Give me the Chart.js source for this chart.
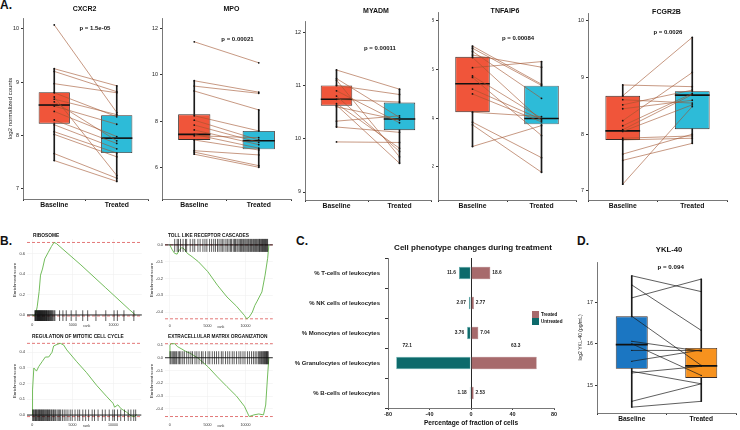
<!DOCTYPE html>
<html>
<head>
<meta charset="utf-8">
<script src="https://cdn.jsdelivr.net/npm/chart.js@4.4.1/dist/chart.umd.min.js"></script>
<style>
  body { margin: 0; background: #fff; width: 740px; height: 430px; position: relative; overflow: hidden; }
  canvas { position: absolute; }
  .tag { position: absolute; font: bold 12px 'Liberation Sans', Arial, sans-serif; line-height: 12px; color: #111; }
</style>
</head>
<body>
<div class="tag" style="left:0;top:-1px">A.</div>
<div class="tag" style="left:0;top:235px">B.</div>
<div class="tag" style="left:296px;top:235px">C.</div>
<div class="tag" style="left:577px;top:235px">D.</div>

<canvas id="cxcr2" style="left:0;top:0" width="152" height="214"></canvas>
<canvas id="mpo" style="left:152px;top:0" width="143" height="214"></canvas>
<canvas id="myadm" style="left:295px;top:0" width="140" height="214"></canvas>
<canvas id="tnfaip6" style="left:432px;top:0" width="148" height="214"></canvas>
<canvas id="fcgr2b" style="left:575px;top:0" width="165" height="214"></canvas>

<canvas id="ribo" style="left:8px;top:230px" width="140" height="102"></canvas>
<canvas id="toll" style="left:145px;top:230px" width="135" height="102"></canvas>
<canvas id="mito" style="left:8px;top:332px" width="140" height="98"></canvas>
<canvas id="ecm" style="left:145px;top:332px" width="135" height="98"></canvas>

<canvas id="cells" style="left:282px;top:236px" width="290" height="194"></canvas>
<canvas id="ykl" style="left:576px;top:236px" width="164" height="194"></canvas>

<script>
const FONT = "'Liberation Sans', Arial, sans-serif";
Chart.defaults.font.family = FONT;
Chart.defaults.color = '#222';
Chart.defaults.animation = false;
Chart.defaults.responsive = false;
Chart.defaults.plugins.legend.display = false;
Chart.defaults.plugins.tooltip.enabled = false;

// ---- A. paired expression, Baseline vs Treated ----
const groups = ['Baseline', 'Treated'];

const cxcr2Base  = [10.07, 9.25, 9.20, 8.97, 8.80, 8.72, 8.68, 8.63, 8.55, 8.45, 8.29, 8.20, 8.07, 8.02, 7.66, 7.53];
const cxcr2Treat = [8.43, 8.93, 8.82, 8.80, 8.35, 7.25, 8.39, 7.90, 8.21, 7.98, 7.85, 7.75, 7.67, 7.60, 7.20, 7.14];
const cxcr2Stats = [[7.53, 8.22, 8.57, 8.81, 9.25], [7.14, 7.67, 7.95, 8.38, 8.93]]; // lo, q1, median, q3, hi
const cxcr2Ticks = [7, 8, 9, 10];

const mpoBase  = [11.41, 9.74, 9.51, 9.30, 8.24, 8.05, 7.84, 7.63, 7.44, 7.38, 7.20, 6.74, 6.68, 6.59];
const mpoTreat = [10.51, 9.25, 9.20, 8.49, 7.59, 7.20, 7.10, 7.00, 6.85, 7.30, 6.77, 6.56, 6.10, 6.03];
const mpoStats = [[6.59, 7.20, 7.44, 8.30, 9.74], [6.03, 6.80, 7.17, 7.59, 8.49]];
const mpoTicks = [6, 8, 10, 12];

const myadmBase  = [11.29, 11.13, 11.10, 11.00, 10.90, 10.80, 10.74, 10.66, 10.63, 10.60, 10.33, 10.22, 9.94];
const myadmTreat = [10.93, 10.40, 9.66, 10.83, 10.30, 9.76, 10.69, 9.82, 9.54, 10.35, 10.43, 10.12, 9.93];
const myadmStats = [[10.22, 10.62, 10.74, 11.00, 11.29], [9.54, 10.16, 10.37, 10.68, 10.93]];
const myadmTicks = [9, 10, 11, 12];

const tnfBase  = [6.97, 6.88, 6.75, 6.60, 6.50, 6.08, 5.74, 5.68, 5.20, 5.00, 4.25, 3.84, 3.73, 2.84];
const tnfTreat = [5.40, 5.35, 4.82, 6.10, 3.90, 6.33, 4.00, 3.29, 3.95, 3.85, 4.07, 2.38, 1.78, 3.70];
const tnfStats = [[2.84, 4.25, 5.42, 6.53, 6.97], [1.78, 3.75, 3.99, 5.34, 6.33]];
const tnfTicks = [2, 4, 6, 8];

const fcgBase  = [8.87, 8.68, 8.61, 8.52, 8.24, 8.15, 8.08, 8.05, 7.93, 7.90, 7.65, 7.54, 7.12, 8.45];
const fcgTreat = [8.84, 9.71, 8.55, 8.78, 9.09, 8.72, 8.70, 8.52, 7.97, 7.93, 8.00, 7.84, 8.49, 8.60];
const fcgStats = [[7.12, 7.90, 8.06, 8.68, 8.87], [7.84, 8.09, 8.69, 8.76, 9.71]];
const fcgTicks = [7, 8, 9, 10];

// ---- D. YKL-40 ----
const yklBase  = [17.63, 17.41, 17.10, 16.66, 16.06, 16.00, 15.84, 15.58, 15.34, 15.30, 14.62, 14.48];
const yklTreat = [17.25, 16.32, 17.55, 15.48, 15.82, 15.24, 15.84, 15.85, 15.04, 15.46, 15.04, 14.62];
const yklStats = [[14.48, 15.40, 15.98, 16.66, 17.63], [14.62, 15.18, 15.47, 15.90, 17.55]];
const yklTicks = [15, 16, 17];

// ---- B. GSEA running scores (rank, enrichment score) and hit ranks ----
const riboRank = [0, 300, 450, 610, 850, 1020, 1260, 1545, 1950, 2360, 2680, 2970, 6000, 9000, 12000, 12720];
const riboES   = [0, -0.01, 0.02, 0.08, 0.23, 0.39, 0.45, 0.55, 0.61, 0.67, 0.71, 0.70, 0.49, 0.27, 0.05, 0.0];
const riboHits = [320, 390, 430, 500, 560, 610, 650, 720, 760, 800, 860, 900, 950, 1010, 1060, 1090, 1150, 1200,
  1260, 1300, 1370, 1410, 1480, 1530, 1570, 1640, 1700, 1760, 1800, 1870, 1950, 2010, 2080, 2150, 2230, 2300,
  2390, 2470, 2560, 2690, 2790, 3370, 3780, 4190, 4800, 5400, 6220, 6830, 7850, 9060, 10080, 10490, 11300, 12520];
const riboTicks = [0, 0.2, 0.4, 0.6];

const tollRank = [0, 340, 630, 970, 1260, 1600, 1890, 2310, 2940, 3780, 5040, 6300, 7560, 8820, 9870, 10160,
  10500, 10920, 11250, 11550, 12180, 12600, 12940, 13100];
const tollES   = [0, -0.03, -0.05, -0.055, -0.03, -0.016, -0.024, -0.05, -0.07, -0.10, -0.16, -0.24, -0.31, -0.365,
  -0.42, -0.44, -0.43, -0.40, -0.36, -0.335, -0.28, -0.18, -0.08, 0];
const tollHits = [650, 980, 1150, 1420, 1760, 2080, 2230, 2700, 3050, 3300, 3720, 4010, 4380, 4650, 4900, 5260,
  5530, 5810, 6040, 6310, 6520, 6770, 6950, 7160, 7420, 7610, 7830, 8020, 8170, 8390, 8560, 8690, 8880, 9020,
  9190, 9350, 9480, 9640, 9760, 9910, 10050, 10190, 10320, 10430, 10580, 10690, 10810, 10960, 11080, 11190,
  11330, 11450, 11560, 11680, 11790, 11870, 11960, 12070, 12160, 12250, 12340, 12420, 12510, 12600, 12680,
  12760, 12850, 12930];
const tollTicks = [-0.4, -0.3, -0.2, -0.1, 0];

const mitoRank = [0, 40, 200, 530, 815, 1220, 1630, 2040, 2450, 2650, 3060, 3470, 3880, 4280, 5510, 6730, 7960,
  9180, 10000, 10200, 10600, 11000, 11630, 12240, 12650, 12930];
const mitoES   = [0, 0.16, 0.30, 0.28, 0.31, 0.34, 0.37, 0.37, 0.40, 0.44, 0.45, 0.457, 0.447, 0.415, 0.34, 0.27,
  0.19, 0.12, 0.075, 0.05, 0.065, 0.04, 0.02, -0.005, -0.01, 0.004];
const mitoHits = [50, 170, 240, 350, 410, 520, 590, 700, 760, 870, 930, 1010, 1120, 1180, 1290, 1360, 1440, 1560,
  1610, 1730, 1820, 1890, 2010, 2120, 2190, 2330, 2410, 2560, 2640, 2790, 2900, 3080, 3230, 3390, 3520, 3740,
  3960, 4180, 4420, 4700, 4950, 5300, 5640, 5870, 6260, 6610, 6980, 7420, 7710, 8150, 8680, 9040, 9530, 9970,
  10180, 10560, 10950, 11420, 11880, 12210, 12560, 12800];
const mitoTicks = [0, 0.1, 0.2, 0.3, 0.4];

const ecmRank = [0, 30, 210, 630, 1050, 1600, 2100, 2730, 3780, 5040, 6300, 7560, 8820, 9870, 10500, 11130,
  11760, 12390, 12680, 12940, 13100];
const ecmES   = [0, 0.10, 0.11, 0.11, 0.086, 0.068, 0.05, 0.034, -0.005, -0.07, -0.15, -0.226, -0.30, -0.38,
  -0.46, -0.447, -0.44, -0.447, -0.37, -0.135, 0];
const ecmHits = [40, 160, 330, 480, 640, 790, 910, 1120, 1290, 1470, 1720, 1930, 2240, 2510, 2790, 3010, 3330,
  3580, 3870, 4190, 4400, 4730, 5060, 5290, 5620, 5910, 6180, 6470, 6820, 7040, 7370, 7660, 7930, 8260, 8510,
  8830, 9140, 9390, 9680, 9940, 10270, 10530, 10810, 11060, 11290, 11510, 11720, 11870, 12010, 12130, 12240,
  12360, 12450, 12540, 12630, 12710, 12790, 12860, 12940, 13010];
const ecmTicks = [-0.4, -0.3, -0.2, -0.1, 0, 0.1];
const rankTicks = [0, 5000, 10000];

// ---- C. cell phenotypes ----
const cellTypes = ['% T-cells of leukocytes', '% NK cells of leukocytes', '% Monocytes of leukocytes',
  '% Granulocytes of leukocytes', '% B-cells of leukocytes'];
const treatedPct   = [18.6, 2.77, 7.04, 63.3, 2.53];
const untreatedPct = [11.6, 2.07, 3.76, 72.1, 1.18];
const pctTicks = [-80, -40, 0, 40, 80];

const fixW = w => s => { s.width = w; };
const fixH = h => s => { s.height = h; };

function pairedBox(id, o) {
  const lines = o.base.map((b, i) => ({
    type: 'line', data: [b, o.treat[i]], borderColor: o.lineColor, borderWidth: o.lineWidth,
    pointRadius: o.dot, pointBackgroundColor: '#111', pointBorderWidth: 0, order: 1
  }));
  const boxIdx = lines.length;
  const datasets = lines.concat([
    { type: 'bar', data: o.stats.map(s => [s[1], s[3]]), backgroundColor: o.fill, borderColor: '#3a2c28',
      borderWidth: 0.9, borderSkipped: false, grouped: false, barPercentage: o.boxPct, categoryPercentage: 1, order: 4 },
    { type: 'bar', data: o.stats.map(s => [s[0], s[4]]), backgroundColor: '#1a1a1a', barThickness: 1,
      grouped: false, order: 5 }
  ]);
  const medians = {
    id: 'medians',
    afterDatasetDraw(chart, args) {
      if (args.index !== boxIdx) return;
      const ctx = chart.ctx, y = chart.scales.y;
      ctx.save();
      ctx.strokeStyle = '#111';
      ctx.lineWidth = 1.6;
      args.meta.data.forEach((bar, i) => {
        const py = y.getPixelForValue(o.stats[i][2]);
        ctx.beginPath();
        ctx.moveTo(bar.x - bar.width / 2, py);
        ctx.lineTo(bar.x + bar.width / 2, py);
        ctx.stroke();
      });
      ctx.restore();
    }
  };
  const notes = {
    id: 'notes',
    afterDraw(chart) {
      const ctx = chart.ctx, a = chart.chartArea, x = chart.scales.x, y = chart.scales.y;
      ctx.save();
      ctx.fillStyle = '#111';
      ctx.textAlign = 'center';
      ctx.textBaseline = 'middle';
      ctx.font = 'bold ' + o.titleSize + 'px ' + FONT;
      ctx.fillText(o.title, (a.left + a.right) / 2 + o.titleDx, o.titleY);
      ctx.font = 'bold ' + o.pSize + 'px ' + FONT;
      const x0 = x.getPixelForValue(0), x1 = x.getPixelForValue(1);
      ctx.fillText(o.p, x0 + o.pAt[0] * (x1 - x0), y.getPixelForValue(o.pAt[1]));
      ctx.restore();
    }
  };
  new Chart(document.getElementById(id), {
    type: 'bar',
    data: { labels: groups, datasets: datasets },
    options: {
      layout: { padding: o.pad },
      scales: {
        x: {
          grid: { drawOnChartArea: false, tickLength: 2, color: '#333' },
          border: { color: '#555', width: 0.8 },
          ticks: { color: '#111', font: { size: o.xSize, weight: 'bold' }, padding: 0 },
          afterFit: fixH(o.xh)
        },
        y: {
          min: o.range[0], max: o.range[1],
          afterBuildTicks: s => { s.ticks = o.ticks.map(v => ({ value: v })); },
          grid: { drawOnChartArea: false, tickLength: 2, color: '#333' },
          border: { color: '#555', width: 0.8 },
          ticks: { color: '#1a1a1a', font: { size: 5.4 }, padding: 2, callback: v => String(v) },
          title: o.yTitle
            ? { display: true, text: o.yTitle, color: '#222', font: { size: o.yTitleSize }, padding: { top: o.yTitlePad, bottom: 0 } }
            : { display: false },
          afterFit: fixW(o.yw)
        }
      }
    },
    plugins: [medians, notes]
  });
}

const geneLine = 'rgba(160,82,45,0.85)';
const geneFill = ['#f0553a', '#2dbbd8'];
const geneCommon = { fill: geneFill, lineColor: geneLine, lineWidth: 0.7, dot: 0.9, boxPct: 0.5, xSize: 6.8, titleSize: 7, pSize: 6, xh: 15 };

pairedBox('cxcr2', Object.assign({}, geneCommon, {
  base: cxcr2Base, treat: cxcr2Treat, stats: cxcr2Stats, ticks: cxcr2Ticks, range: [6.81, 10.2],
  title: 'CXCR2', titleY: 9, titleDx: -1, p: 'p = 1.5e-05', pAt: [0.65, 10.0],
  pad: { left: 0, right: 4, top: 18, bottom: 0 }, yw: 23,
  yTitle: 'log2 normalized counts', yTitleSize: 6, yTitlePad: 6.5
}));
pairedBox('mpo', Object.assign({}, geneCommon, {
  base: mpoBase, treat: mpoTreat, stats: mpoStats, ticks: mpoTicks, range: [4.67, 12.43],
  title: 'MPO', titleY: 9, titleDx: 5, p: 'p = 0.00021', pAt: [0.67, 11.53],
  pad: { left: 0, right: 2, top: 18, bottom: 0 }, yw: 10
}));
pairedBox('myadm', Object.assign({}, geneCommon, {
  base: myadmBase, treat: myadmTreat, stats: myadmStats, ticks: myadmTicks, range: [8.85, 12.21],
  title: 'MYADM', titleY: 11, titleDx: 8, p: 'p = 0.00011', pAt: [0.69, 11.7],
  pad: { left: 0, right: 3, top: 21, bottom: 0 }, yw: 10, xh: 14
}));
pairedBox('tnfaip6', Object.assign({}, geneCommon, {
  base: tnfBase, treat: tnfTreat, stats: tnfStats, ticks: tnfTicks, range: [0.64, 8.37],
  title: 'TNFAIP6', titleY: 11, titleDx: -2, p: 'p = 0.00084', pAt: [0.66, 7.3],
  pad: { left: 0, right: 3, top: 12, bottom: 0 }, yw: 6, xh: 14
}));
pairedBox('fcgr2b', Object.assign({}, geneCommon, {
  base: fcgBase, treat: fcgTreat, stats: fcgStats, ticks: fcgTicks, range: [6.84, 10.14],
  title: 'FCGR2B', titleY: 12, titleDx: 9, p: 'p = 0.0026', pAt: [0.65, 9.8],
  pad: { left: 0, right: 13, top: 13, bottom: 0 }, yw: 13, xh: 14
}));

pairedBox('ykl', {
  base: yklBase, treat: yklTreat, stats: yklStats, ticks: yklTicks, range: [14.34, 17.96],
  fill: ['#1b76c2', '#f7921e'], lineColor: '#1a1a1a', lineWidth: 0.7, dot: 0.6, boxPct: 0.46,
  xSize: 6.6, titleSize: 7.7, pSize: 6.2, xh: 17,
  title: 'YKL-40', titleY: 14, titleDx: 2.5, p: 'p = 0.094', pAt: [0.56, 17.84],
  pad: { left: 0, right: 2, top: 26, bottom: 0 }, yw: 21,
  yTitle: 'log2 YKL-40 (pg/mL)', yTitleSize: 5, yTitlePad: 2
});

// ---- B. enrichment plots ----
function gsea(id, o) {
  const curve = o.rank.map((r, i) => ({ x: r, y: o.es[i] }));
  const hitPts = o.hits.map(r => ({ x: r, y: o.hitY }));
  const esMax = Math.max(...o.es), esMin = Math.min(...o.es);
  const guides = {
    id: 'guides',
    beforeDatasetsDraw(chart) {
      const ctx = chart.ctx, a = chart.chartArea, y = chart.scales.y;
      ctx.save();
      ctx.strokeStyle = '#e06a6a';
      ctx.lineWidth = 0.9;
      ctx.setLineDash([3, 2]);
      [esMax, esMin].forEach(v => {
        const py = y.getPixelForValue(v);
        ctx.beginPath(); ctx.moveTo(a.left, py); ctx.lineTo(a.right, py); ctx.stroke();
      });
      ctx.restore();
    },
    afterDatasetsDraw(chart) {
      const ctx = chart.ctx, a = chart.chartArea, x = chart.scales.x, y = chart.scales.y;
      ctx.save();
      ctx.strokeStyle = '#111';
      ctx.lineWidth = 0.9;
      const p0 = y.getPixelForValue(0);
      ctx.beginPath(); ctx.moveTo(a.left, p0); ctx.lineTo(a.right, p0); ctx.stroke();
      ctx.fillStyle = '#111';
      ctx.textBaseline = 'middle';
      ctx.textAlign = 'left';
      ctx.font = 'bold 4.8px ' + FONT;
      ctx.fillText(o.title, a.left + o.titleDx, o.titleY);
      ctx.font = '3.6px ' + FONT;
      ctx.fillStyle = '#333';
      ctx.fillText('rank', x.getPixelForValue(6300), a.bottom + 5);
      ctx.restore();
    }
  };
  new Chart(document.getElementById(id), {
    type: 'scatter',
    data: {
      datasets: [
        { data: curve, showLine: true, borderColor: '#63b44a', borderWidth: 0.9, pointRadius: 0, order: 2 },
        { data: hitPts, showLine: false, pointStyle: 'line', rotation: 90, pointRadius: o.hitR,
          pointBorderColor: 'rgba(0,0,0,0.9)', pointBorderWidth: 0.7, order: 1 }
      ]
    },
    options: {
      layout: { padding: o.pad },
      scales: {
        x: {
          type: 'linear', min: o.xr[0], max: o.xr[1],
          afterBuildTicks: s => { s.ticks = rankTicks.map(v => ({ value: v })); },
          grid: { color: '#ececec', lineWidth: 0.5, drawTicks: false },
          border: { display: false },
          ticks: { color: '#333', font: { size: 3.6 }, padding: 1.5, callback: v => String(v) },
          afterFit: fixH(o.xh)
        },
        y: {
          min: o.yr[0], max: o.yr[1],
          afterBuildTicks: s => { s.ticks = o.ticks.map(v => ({ value: v })); },
          grid: { color: '#ececec', lineWidth: 0.5, drawTicks: false },
          border: { display: false },
          ticks: { color: '#333', font: { size: 4 }, padding: 2, callback: v => v.toFixed(1) },
          title: { display: true, text: 'Enrichment score', color: '#222', font: { size: 4.4 }, padding: { top: 4.4, bottom: 0 } },
          afterFit: fixW(o.yw)
        }
      }
    },
    plugins: [guides]
  });
}

gsea('ribo', {
  rank: riboRank, es: riboES, hits: riboHits, ticks: riboTicks, hitY: -0.008, hitR: 5.5,
  xr: [-646, 13500], yr: [-0.059, 0.744], pad: { left: 0, right: 5, top: 9, bottom: 0 }, yw: 19, xh: 11,
  title: 'RIBOSOME', titleDx: 6, titleY: 6
});
gsea('toll', {
  rank: tollRank, es: tollES, hits: tollHits, ticks: tollTicks, hitY: -0.003, hitR: 6.5,
  xr: [-630, 13620], yr: [-0.459, 0.041], pad: { left: 0, right: 2, top: 8, bottom: 0 }, yw: 20, xh: 10,
  title: 'TOLL LIKE RECEPTOR CASCADES', titleDx: 3, titleY: 6
});
gsea('mito', {
  rank: mitoRank, es: mitoES, hits: mitoHits, ticks: mitoTicks, hitY: -0.003, hitR: 6,
  xr: [-646, 13500], yr: [-0.038, 0.472], pad: { left: 0, right: 5, top: 9, bottom: 0 }, yw: 19, xh: 9,
  title: 'REGULATION OF MITOTIC CELL CYCLE', titleDx: 5, titleY: 5
});
gsea('ecm', {
  rank: ecmRank, es: ecmES, hits: ecmHits, ticks: ecmTicks, hitY: 0, hitR: 6.5,
  xr: [-630, 13620], yr: [-0.495, 0.131], pad: { left: 0, right: 2, top: 9, bottom: 0 }, yw: 20, xh: 9,
  title: 'EXTRACELLULAR MATRIX ORGANIZATION', titleDx: 3, titleY: 5
});

// ---- C. diverging bars ----
const pctLabels = {
  id: 'pctLabels',
  afterDatasetsDraw(chart) {
    const ctx = chart.ctx;
    ctx.save();
    ctx.fillStyle = '#222';
    ctx.textBaseline = 'middle';
    ctx.font = 'bold 4.8px ' + FONT;
    [treatedPct, untreatedPct].forEach((vals, di) => {
      const neg = di === 1;
      chart.getDatasetMeta(di).data.forEach((bar, i) => {
        const txt = String(vals[i]);
        if (vals[i] > 50) {
          ctx.textAlign = 'center';
          ctx.fillText(txt, bar.x + (neg ? 11 : -21), bar.y - bar.height / 2 - 11);
        } else {
          ctx.textAlign = neg ? 'right' : 'left';
          ctx.fillText(txt, bar.x + (neg ? -3 : 2), bar.y);
        }
      });
    });
    // title
    const a = chart.chartArea;
    ctx.textAlign = 'center';
    ctx.fillStyle = '#111';
    ctx.font = 'bold 8px ' + FONT;
    ctx.fillText('Cell phenotype changes during treatment', (a.left + a.right) / 2 + 2, 12);
    // legend
    ctx.textAlign = 'left';
    ctx.font = 'bold 4.6px ' + FONT;
    chart.data.datasets.forEach((ds, k) => {
      const bx = a.right - 22, by = a.top + 53 + k * 7;
      ctx.fillStyle = ds.backgroundColor;
      ctx.fillRect(bx, by, 7, 7);
      ctx.fillStyle = '#111';
      ctx.fillText(ds.label, bx + 9, by + 3.5);
    });
    ctx.restore();
  }
};

new Chart(document.getElementById('cells'), {
  type: 'bar',
  data: {
    labels: cellTypes,
    datasets: [
      { label: 'Treated', data: treatedPct, backgroundColor: '#a76a6c', borderColor: '#94595b', borderWidth: 0.5,
        borderSkipped: false, grouped: false, barPercentage: 0.41, categoryPercentage: 1 },
      { label: 'Untreated', data: untreatedPct.map(v => -v), backgroundColor: '#0d6a6b', borderColor: '#5fb0b0',
        borderWidth: 0.6, borderSkipped: false, grouped: false, barPercentage: 0.41, categoryPercentage: 1 }
    ]
  },
  options: {
    indexAxis: 'y',
    layout: { padding: { left: 0, right: 18, top: 22, bottom: 0 } },
    scales: {
      x: {
        min: -80, max: 80,
        afterBuildTicks: s => { s.ticks = pctTicks.map(v => ({ value: v })); },
        grid: { color: c => (c.tick && c.tick.value === 0 ? '#111' : 'rgba(0,0,0,0)'), tickColor: '#333', lineWidth: 0.9, tickLength: 2 },
        border: { color: '#555', width: 0.8 },
        ticks: { color: '#222', font: { size: 5.5, weight: 'bold' }, padding: 1, callback: v => String(v) },
        title: { display: true, text: 'Percentage of fraction of cells', color: '#111', font: { size: 6.6, weight: 'bold' }, padding: { top: 0, bottom: 3 } },
        afterFit: fixH(22)
      },
      y: {
        grid: { drawOnChartArea: false, tickLength: 3, color: '#333' },
        border: { color: '#555', width: 0.8 },
        ticks: { color: '#1a1a1a', font: { size: 6, weight: 'bold' }, padding: 5 },
        afterFit: fixW(106)
      }
    }
  },
  plugins: [pctLabels]
});
</script>
</body>
</html>
